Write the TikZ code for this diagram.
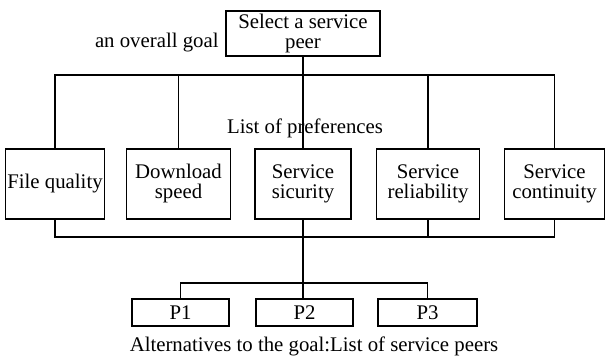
\documentclass[tikz,border=0pt]{standalone}
\usepackage{fontspec}
\setmainfont{Liberation Serif}
\usetikzlibrary{positioning,calc}
\tikzset{
  goalbox/.style={rectangle, draw, line width=0.7pt, minimum width=77pt, minimum height=22.5pt, align=center, inner sep=1pt},
  pref/.style={rectangle, draw, line width=0.7pt, minimum height=35pt, align=center, inner sep=1pt},
  peer/.style={rectangle, draw, line width=0.7pt, minimum width=48.5pt, minimum height=13.5pt, inner sep=1pt},
  link/.style={line width=0.7pt},
  lbl/.style={inner sep=0pt}
}

\begin{document}
\begin{tikzpicture}[x=0.5pt, y=-0.5pt, font=\fontsize{10.4}{10}\selectfont]
  \useasboundingbox (0,0) rectangle (605,357);
  \node[goalbox] (goal) at (303,33.5) {Select a service\\peer};
  \node[lbl, anchor=east] (goaltxt) at (219,43) {an overall goal};
  \coordinate (topbus) at (303,75);
  \node[lbl] (preftxt) at (305,128) {List of preferences};
  \node[pref, minimum width=48pt] (fq) at (55,184) {File quality};
  \node[pref, minimum width=52pt] (ds) at (178.5,184) {Download\\speed};
  \node[pref, minimum width=48pt] (ss) at (303,184) {Service\\sicurity};
  \node[pref, minimum width=51.5pt] (sr) at (428,184) {Service\\reliability};
  \node[pref, minimum width=50pt] (sc) at (554.5,184) {Service\\continuity};
  \coordinate (botbus) at (303,237);
  \coordinate (pbus) at (303,283);
  \node[peer] (p1) at (180.5,312.5) {P1};
  \node[peer] (p2) at (304.5,312.5) {P2};
  \node[peer, minimum width=49.5pt] (p3) at (427.5,312.5) {P3};
  \node[lbl] (alttxt) at (314,346) {Alternatives to the goal:List of service peers};
  % goal to preferences
  \draw[link] (goal) -- (topbus);
  \draw[link] (fq.north) |- (topbus) -| (sc.north);
  \draw[link] (ds.north) -- (ds.north |- topbus);
  \draw[link] (topbus) -- (ss.north);
  \draw[link] (sr.north) -- (sr.north |- topbus);
  % preferences to peers
  \draw[link] (fq.south) |- (botbus) -| (sc.south);
  \draw[link] (sr.south) -- (sr.south |- botbus);
  \draw[link] (ss.south) -- (ss.south |- p2.north);
  \draw[link] (p1.north) |- (pbus) -| (p3.north);
\end{tikzpicture}
\end{document}
